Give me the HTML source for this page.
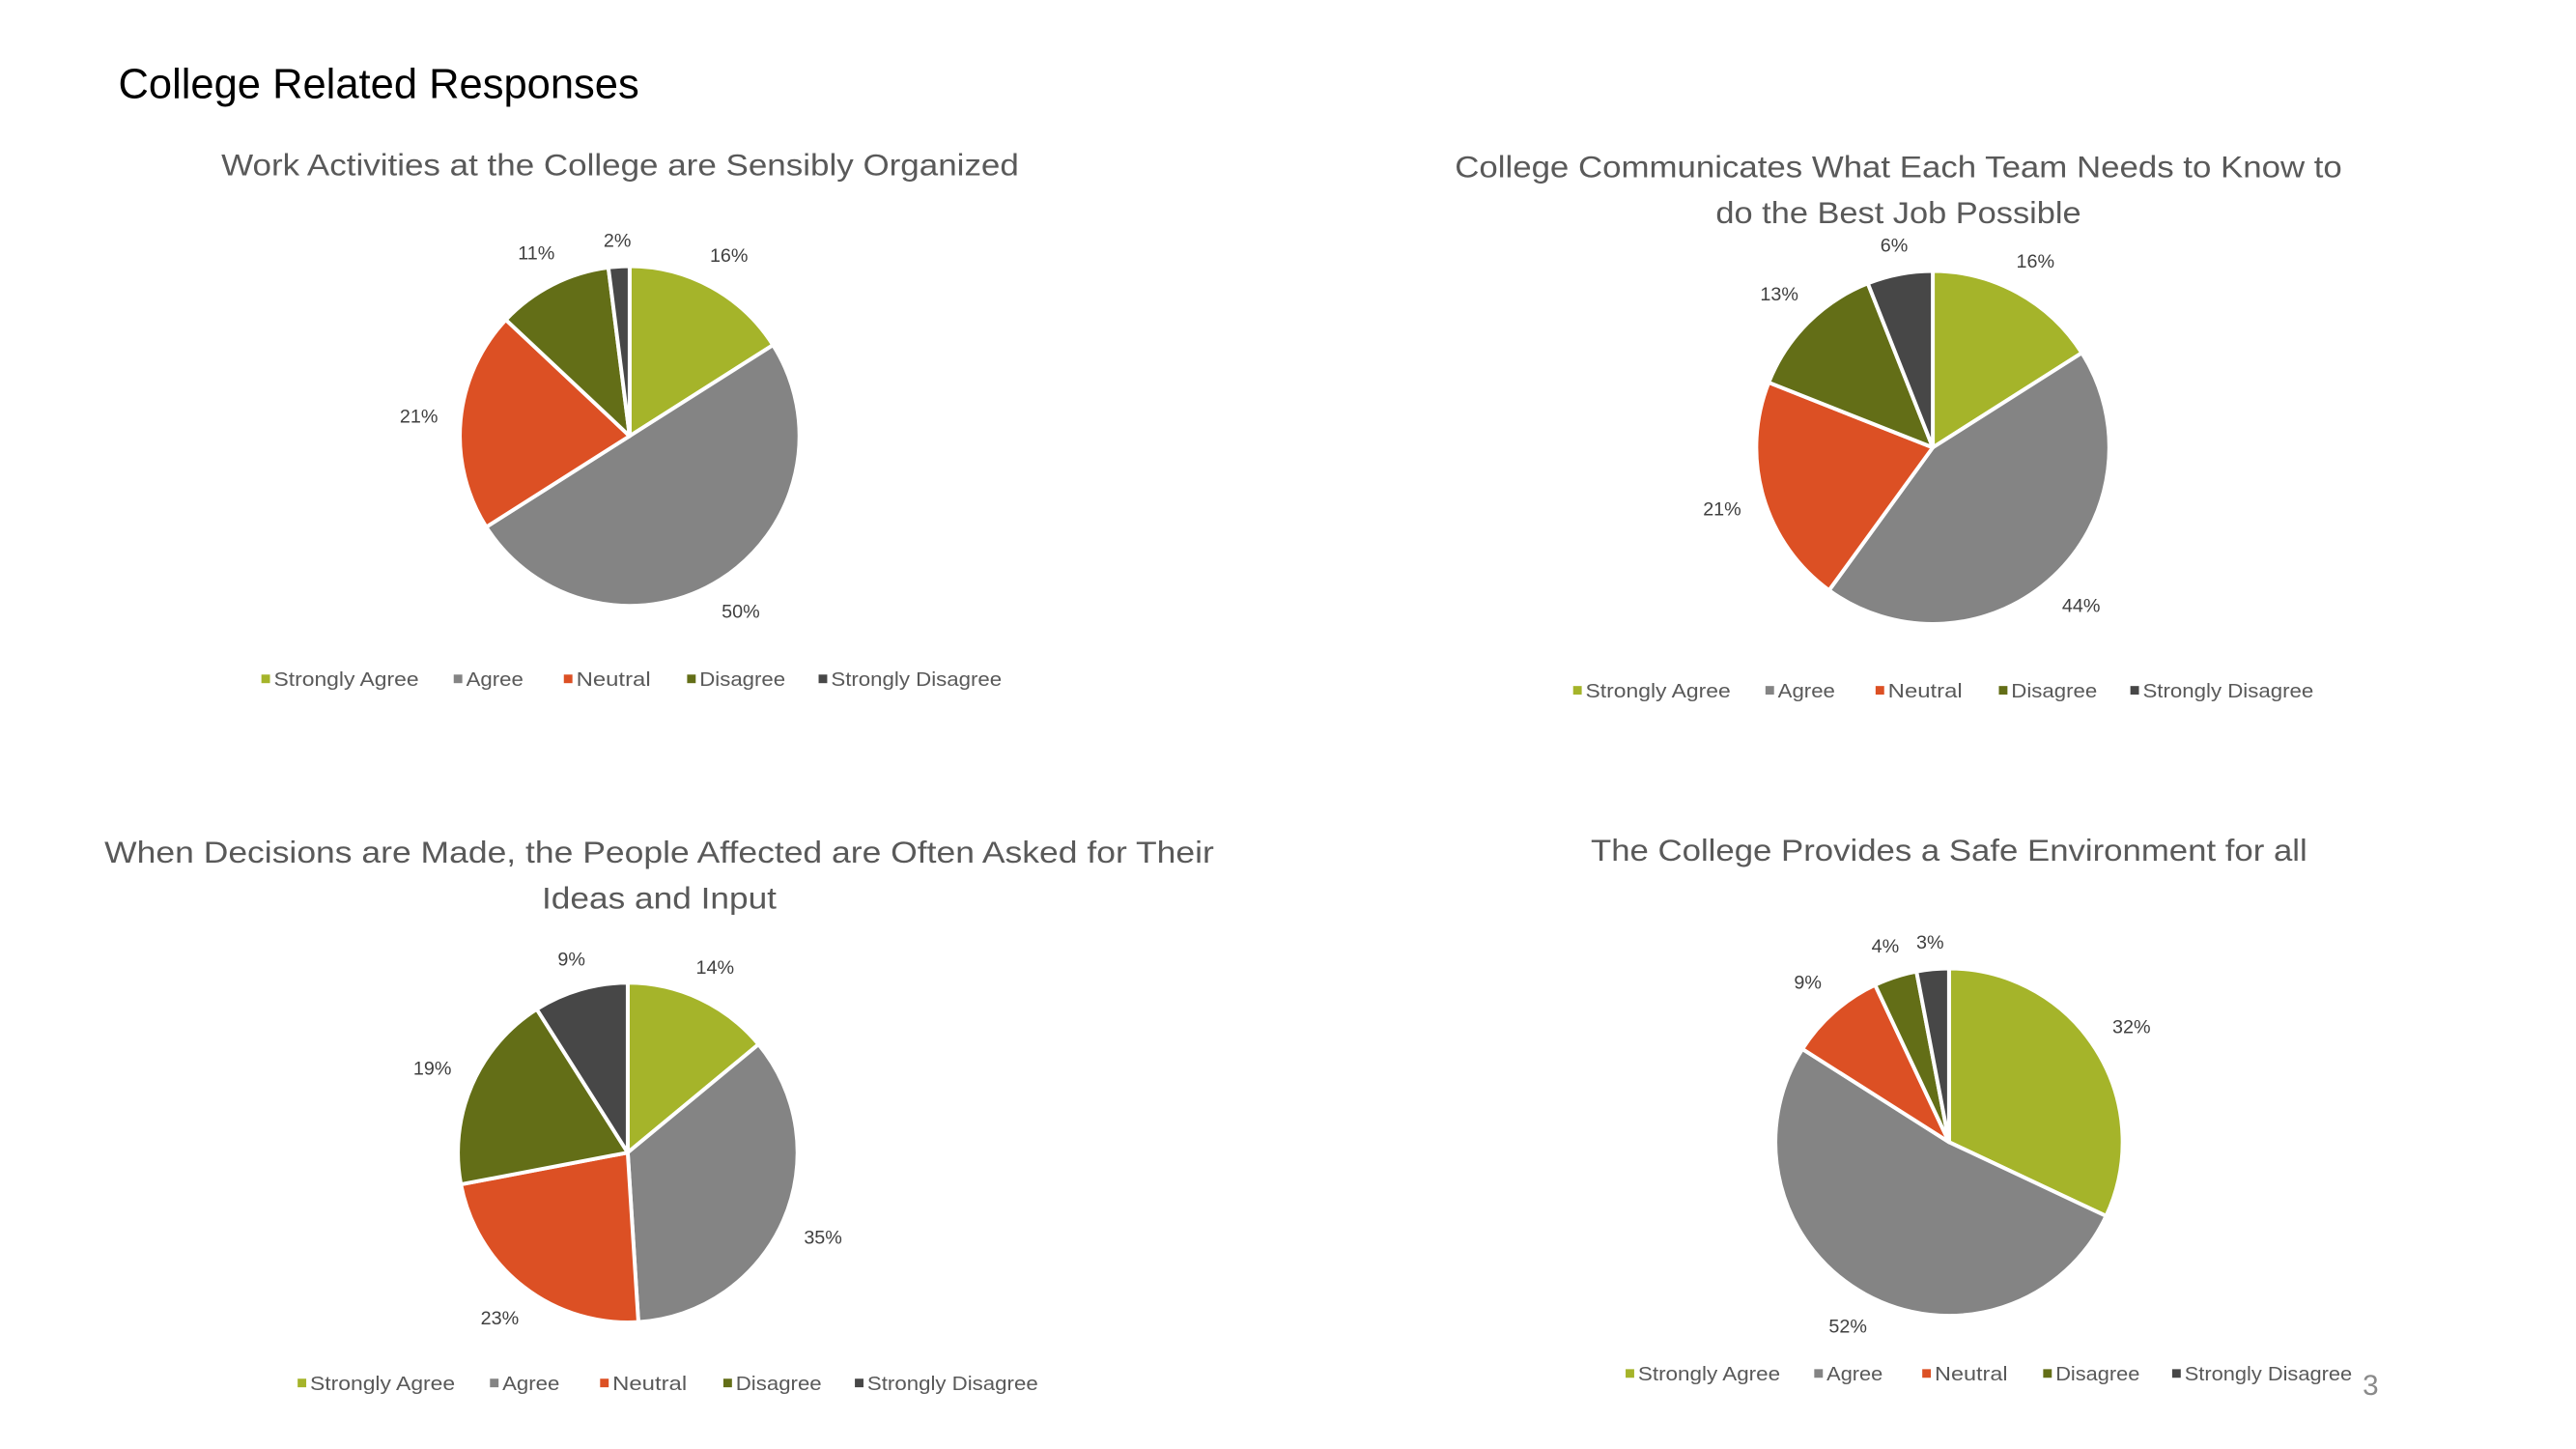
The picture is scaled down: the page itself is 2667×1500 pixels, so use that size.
<!DOCTYPE html>
<html><head><meta charset="utf-8"><style>
html,body{margin:0;padding:0;background:#fff;width:2667px;height:1500px;overflow:hidden}
svg{display:block}
text{font-family:"Liberation Sans",sans-serif}
</style></head><body>
<svg width="2667" height="1500" xmlns="http://www.w3.org/2000/svg">
<g id="s" transform="scale(0.9877)">
<text x="124" y="103" font-size="44" fill="#000" textLength="546" lengthAdjust="spacingAndGlyphs">College Related Responses</text>
<text x="2485" y="1462" font-size="30" fill="#8a8a8a" text-anchor="middle">3</text>
</g>
</svg>
<script>
const categories=["Strongly Agree","Agree","Neutral","Disagree","Strongly Disagree"];
const colors=["#A5B42A","#848484","#DC5024","#636E17","#474747"];
const chart1Values=[16,50,21,11,2];
const chart2Values=[16,44,21,13,6];
const chart3Values=[14,35,23,19,9];
const chart4Values=[32,52,9,4,3];
const chart1Title=["Work Activities at the College are Sensibly Organized"];
const chart2Title=["College Communicates What Each Team Needs to Know to","do the Best Job Possible"];
const chart3Title=["When Decisions are Made, the People Affected are Often Asked for Their","Ideas and Input"];
const chart4Title=["The College Provides a Safe Environment for all"];
const svg=document.getElementById('s');
const NS="http://www.w3.org/2000/svg";
function mk(tag,attrs,parent){const e=document.createElementNS(NS,tag);for(const k in attrs)e.setAttribute(k,attrs[k]);(parent||svg).appendChild(e);return e;}
const legOff=[0,117,184,259,339];
const legW=[152,60,78,90,179];
const charts=[
 {vals:chart1Values,title:chart1Title,cx:660,cy:457,r:178,tx:650,ty:[184],tw:[836],lx:274,ly:712,ls:1.723,name:'work-activities'},
 {vals:chart2Values,title:chart2Title,cx:2026,cy:469,r:185,tx:1990,ty:[186,234],tw:[930,383],lx:1649,ly:724,ls:1.723,name:'college-communicates'},
 {vals:chart3Values,title:chart3Title,cx:658,cy:1208,r:178,tx:691,ty:[904,952],tw:[1163,246],lx:312,ly:1450,ls:1.723,name:'decisions-input'},
 {vals:chart4Values,title:chart4Title,cx:2043,cy:1197,r:182,tx:2043,ty:[902],tw:[751],lx:1704,ly:1440,ls:1.69,name:'safe-environment'}
];
charts.forEach(c=>{
 const g=mk('g',{});
 
 
 c.title.forEach((t,i)=>{
  const e=mk('text',{x:c.tx,y:c.ty[i],'font-size':32,fill:'#595959','text-anchor':'middle',textLength:c.tw[i],lengthAdjust:'spacingAndGlyphs'},g);
  e.textContent=t;
  
  
 });
 const total=c.vals.reduce((a,b)=>a+b,0);
 let a0=0;
 c.vals.forEach((v,i)=>{
  const a1=a0+v/total*2*Math.PI;
  const x0=c.cx+c.r*Math.sin(a0),y0=c.cy-c.r*Math.cos(a0);
  const x1=c.cx+c.r*Math.sin(a1),y1=c.cy-c.r*Math.cos(a1);
  const large=(a1-a0)>Math.PI?1:0;
  const p=mk('path',{d:`M${c.cx},${c.cy}L${x0},${y0}A${c.r},${c.r} 0 ${large} 1 ${x1},${y1}Z`,fill:colors[i],stroke:'#fff','stroke-width':4,'stroke-linejoin':'round'},g);
  
  
  const am=(a0+a1)/2;
  const s=Math.sin(am),co=Math.cos(am);
  const lr=c.r+15+28*Math.abs(s)+11*Math.abs(co);
  const t=mk('text',{x:c.cx+lr*s,y:c.cy-lr*co+7,'font-size':20,fill:'#404040','text-anchor':'middle'},g);
  t.textContent=v+'%';
  
  
  a0=a1;
 });
 categories.forEach((cat,i)=>{
  const x=c.lx+legOff[i]*c.ls;
  const lg=mk('g',{},g);
  
  
  mk('rect',{x:x,y:c.ly-5,width:9,height:9,fill:colors[i]},lg);
  const t=mk('text',{x:x+13,y:c.ly+7,'font-size':21,fill:'#595959',textLength:legW[i]*(c.ls/1.723),lengthAdjust:'spacingAndGlyphs'},lg);
  t.textContent=cat;
 });
});
</script>
</body></html>
